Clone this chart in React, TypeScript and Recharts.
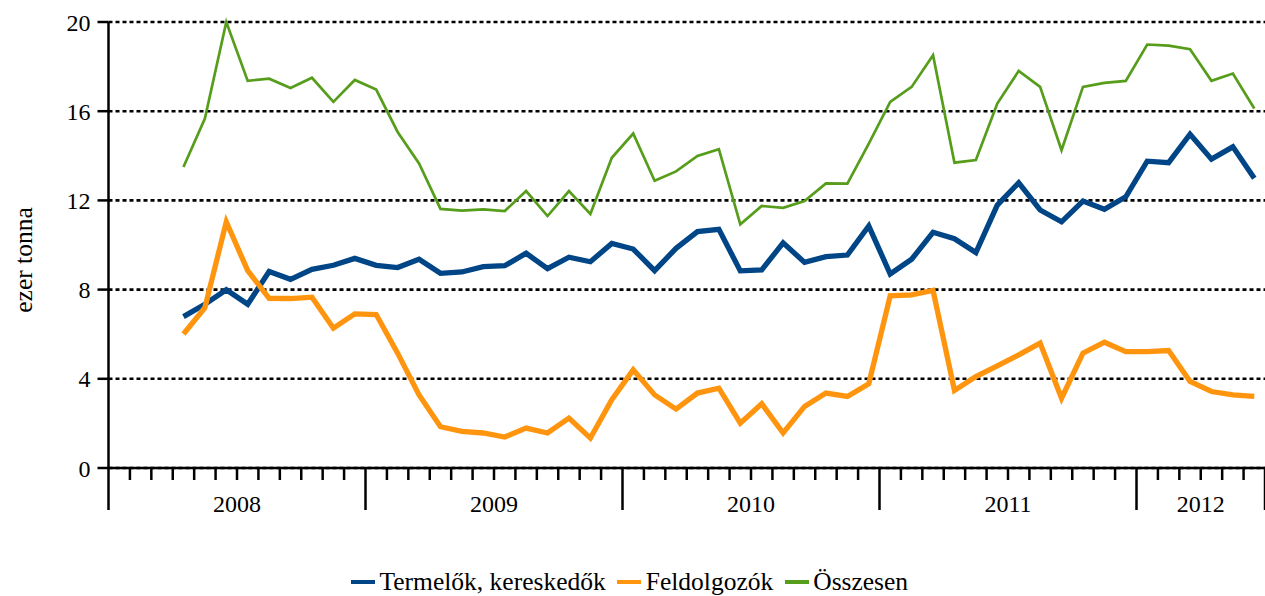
import React from 'react';
import { LineChart, Line, XAxis, YAxis, CartesianGrid, Legend } from 'recharts';

const years = ['2008', '2009', '2010', '2011', '2012'];
const monthsInYear = [12, 12, 12, 12, 6];
const yTicks = [0, 4, 8, 12, 16, 20];

// monthly values, ezer tonna; Jan-Mar 2008 have no data
const termelok = [
  null, null, null, 6.79, 7.34, 7.99, 7.34, 8.81, 8.46, 8.91, 9.09, 9.4, 9.09,
  8.99, 9.36, 8.73, 8.79, 9.03, 9.07, 9.63, 8.94, 9.45, 9.25, 10.07, 9.82, 8.85,
  9.85, 10.6, 10.7, 8.84, 8.88, 10.1, 9.22, 9.48, 9.55, 10.85, 8.7, 9.36, 10.57,
  10.28, 9.66, 11.79, 12.79, 11.57, 11.04, 11.97, 11.6, 12.16, 13.76, 13.69, 14.97,
  13.85, 14.4, 12.99,
];
const feldolgozok = [
  null, null, null, 6.01, 7.19, 11.04, 8.85, 7.61, 7.6, 7.66, 6.27, 6.91, 6.88,
  5.15, 3.28, 1.85, 1.64, 1.57, 1.39, 1.79, 1.57, 2.24, 1.34, 3.06, 4.4, 3.28,
  2.64, 3.36, 3.58, 2.01, 2.88, 1.57, 2.76, 3.36, 3.21, 3.78, 7.72, 7.76, 7.96,
  3.48, 4.1, 4.58, 5.07, 5.6, 3.13, 5.15, 5.64, 5.22, 5.22, 5.27, 3.88,
  3.43, 3.28, 3.21,
];
const osszesen = [
  null, null, null, 13.5, 15.67, 20.0, 17.36, 17.46, 17.04, 17.5, 16.42, 17.4, 16.97,
  15.07, 13.66, 11.62, 11.54, 11.6, 11.52, 12.42, 11.3, 12.42, 11.39, 13.91, 15.0, 12.88,
  13.3, 13.99, 14.3, 10.93, 11.75, 11.67, 11.97, 12.76, 12.75, 14.55, 16.42, 17.09, 18.51,
  13.69, 13.81, 16.34, 17.81, 17.09, 14.25, 17.09, 17.27, 17.36, 18.99, 18.94, 18.78,
  17.36, 17.69, 16.12,
];

const seriesNames = ['Termelők, kereskedők', 'Feldolgozók', 'Összesen'];
const colors = ['#004586', '#ff950e', '#579d1c'];

const FONT = '"Liberation Serif", "Times New Roman", serif';

// month boundaries on the x axis, year starts and the centre of each year
const yearStarts: number[] = [];
const yearMid: Record<number, string> = {};
let total = 0;
years.forEach((y, i) => {
  yearStarts.push(total);
  yearMid[total + monthsInYear[i] / 2] = y;
  total += monthsInYear[i];
});
yearStarts.push(total);
const boundaries = Array.from({ length: total + 1 }, (_, i) => i);

const data = termelok.map((v, i) => ({
  x: i + 0.5,
  termelok: v,
  feldolgozok: feldolgozok[i],
  osszesen: osszesen[i],
}));

const MonthTick = (props: any) => {
  const { x, y, payload } = props;
  const v = payload.value;
  const major = yearStarts.includes(v);
  const label = yearMid[v];
  return (
    <g>
      <line x1={x} y1={y} x2={x} y2={y + (major ? 42 : 12)} stroke="#000" strokeWidth={2.5} />
      {label && (
        <text x={x} y={y + 44} textAnchor="middle" fontSize={24} fontFamily={FONT} fill="#000">
          {label}
        </text>
      )}
    </g>
  );
};

const AxisTitle = (props: any) => {
  const { viewBox } = props;
  const cx = viewBox.x + 23;
  const cy = viewBox.y + viewBox.height / 2 + 15;
  return (
    <text
      x={cx}
      y={cy}
      transform={`rotate(-90 ${cx} ${cy})`}
      textAnchor="middle"
      dominantBaseline="central"
      fontSize={25.5}
      fontFamily={FONT}
      fill="#000"
    >
      ezer tonna
    </text>
  );
};

const LegendRow = (props: any) => {
  const items = [...(props.payload || [])].sort(
    (a: any, b: any) => seriesNames.indexOf(a.value) - seriesNames.indexOf(b.value)
  );
  return (
    <div style={{ display: 'flex', alignItems: 'center', fontFamily: FONT, fontSize: 25.5, lineHeight: '26px', color: '#000', whiteSpace: 'nowrap' }}>
      {items.map((e: any) => (
        <div key={e.value} style={{ display: 'flex', alignItems: 'center', marginRight: 11.5 }}>
          <span style={{ display: 'inline-block', width: 24, height: 4, background: e.color, marginRight: 4.5 }} />
          <span>{e.value}</span>
        </div>
      ))}
    </div>
  );
};

export default function App() {
  return (
    <div style={{ position: 'absolute', left: 0, top: 0, width: 1265, height: 596, background: '#fff' }}>
      <LineChart width={1265} height={596} data={data} margin={{ top: 22, right: 0, left: 0, bottom: 68 }}>
        <CartesianGrid vertical={false} stroke="#000" strokeWidth={2.6} strokeDasharray="4 3" />
        <XAxis
          dataKey="x"
          type="number"
          domain={[0, total]}
          ticks={boundaries}
          interval={0}
          tickLine={false}
          tickSize={0}
          tickMargin={0}
          tick={<MonthTick />}
          axisLine={{ stroke: '#000', strokeWidth: 2.5 }}
          height={60}
        />
        <YAxis
          domain={[0, 20]}
          ticks={yTicks}
          interval={0}
          width={108.5}
          tickSize={11}
          tickMargin={7}
          tickLine={{ stroke: '#000', strokeWidth: 2.5 }}
          axisLine={{ stroke: '#000', strokeWidth: 2.5 }}
          tick={{ fill: '#000', fontSize: 24, fontFamily: FONT }}
          label={<AxisTitle />}
        />
        <Legend
          content={<LegendRow />}
          layout="horizontal"
          verticalAlign="middle"
          align="center"
          wrapperStyle={{ left: 351, top: 569, width: 'auto', height: 26 }}
        />
        <Line type="linear" dataKey="termelok" name={seriesNames[0]} stroke={colors[0]} strokeWidth={5.3} dot={false} activeDot={false} isAnimationActive={false} />
        <Line type="linear" dataKey="feldolgozok" name={seriesNames[1]} stroke={colors[1]} strokeWidth={5.3} dot={false} activeDot={false} isAnimationActive={false} />
        <Line type="linear" dataKey="osszesen" name={seriesNames[2]} stroke={colors[2]} strokeWidth={2.7} dot={false} activeDot={false} isAnimationActive={false} />
      </LineChart>
    </div>
  );
}
